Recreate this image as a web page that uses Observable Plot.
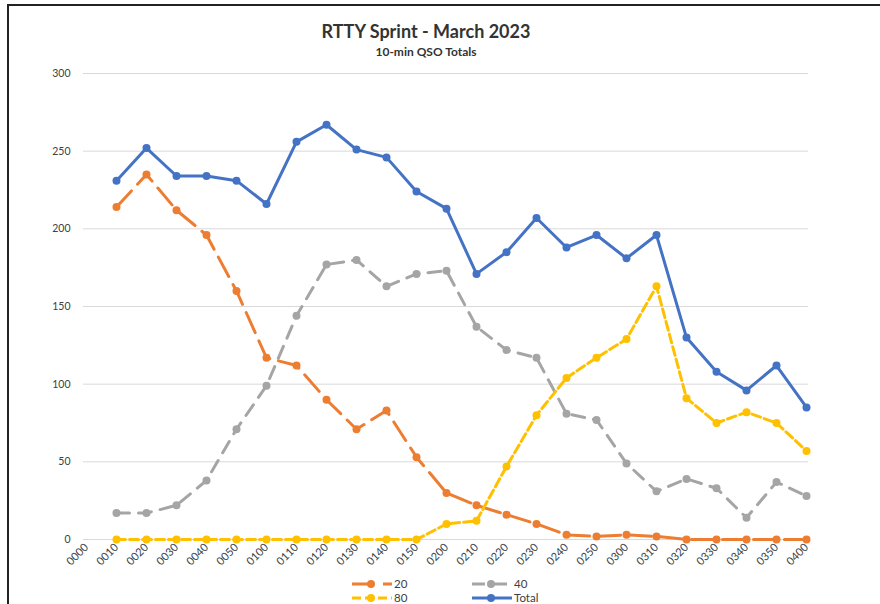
<!DOCTYPE html>
<html>
<head>
<meta charset="utf-8">
<script src="https://cdn.jsdelivr.net/npm/d3@7"></script>
<script src="https://cdn.jsdelivr.net/npm/@observablehq/plot@0.6"></script>
<style>
  html, body { margin: 0; padding: 0; background: #fff; }
  #wrap { position: relative; width: 880px; height: 604px; overflow: hidden; background: #fff; font-family: Lato, "Open Sans", sans-serif; }
  #frame { position: absolute; left: 7px; top: 4px; width: 900px; height: 700px; border-top: 2px solid #222; border-left: 2px solid #222; }
  #title { position: absolute; top: 20px; left: 226px; width: 400px; text-align: center; font-weight: bold; font-size: 18px; color: #333; }
  #subtitle { position: absolute; top: 44px; left: 226px; width: 400px; text-align: center; font-weight: bold; font-size: 12px; color: #333; }
  #chart { position: absolute; top: 62px; left: 0; }
  #legend { position: absolute; top: 574px; left: 0; }
</style>
</head>
<body>
<div id="wrap">
  <div id="frame"></div>
  <div id="title">RTTY Sprint - March 2023</div>
  <div id="subtitle">10-min QSO Totals</div>
  <div id="chart"></div>
  <div id="legend"></div>
</div>
<script>
const times = ["0000","0010","0020","0030","0040","0050","0100","0110","0120","0130","0140","0150","0200","0210","0220","0230","0240","0250","0300","0310","0320","0330","0340","0350","0400"];
const band20 = [null,214,235,212,196,160,117,112,90,71,83,53,30,22,16,10,3,2,3,2,0,0,0,0,0];
const band40 = [null,17,17,22,38,71,99,144,177,180,163,171,173,137,122,117,81,77,49,31,39,33,14,37,28];
const band80 = [null,0,0,0,0,0,0,0,0,0,0,0,10,12,47,80,104,117,129,163,91,75,82,75,57];
const total  = [null,231,252,234,234,231,216,256,267,251,246,224,213,171,185,207,188,196,181,196,130,108,96,112,85];
const yTicks = [0,50,100,150,200,250,300];

const seriesDefs = [
  {name: "20", values: band20, color: "#ED7D31", dash: "22,9"},
  {name: "40", values: band40, color: "#A5A5A5", dash: "13,9"},
  {name: "80", values: band80, color: "#FFC000", dash: "9,4"},
  {name: "Total", values: total, color: "#4472C4", dash: null}
];

const marks = [
  Plot.gridY(yTicks, {stroke: "#d9d9d9", strokeOpacity: 1, strokeWidth: 1}),
  Plot.axisY(yTicks, {tickSize: 0, tickPadding: 13, fontSize: 10.5}),
  Plot.axisX({tickRotate: -45, tickSize: 0, tickPadding: 6, fontSize: 11})
];
for (const s of seriesDefs) {
  const rows = times.map((t, i) => ({time: t, value: s.values[i]})).filter(d => d.value != null);
  const opts = {x: "time", y: "value", stroke: s.color, strokeWidth: 3};
  if (s.dash) opts.strokeDasharray = s.dash;
  marks.push(Plot.line(rows, opts));
  marks.push(Plot.dot(rows, {x: "time", y: "value", fill: s.color, r: 4}));
}

const chart = Plot.plot({
  width: 880,
  height: 512,
  marginLeft: 83,
  marginRight: 72,
  marginTop: 11,
  marginBottom: 35,
  style: {color: "#404040", fontFamily: "Lato, 'Open Sans', sans-serif", background: "transparent", overflow: "visible"},
  x: {type: "point", domain: times, padding: 0, label: null},
  y: {domain: [0, 300], label: null},
  marks
});
document.getElementById("chart").appendChild(chart);

// legend
const ns = "http://www.w3.org/2000/svg";
const lsvg = document.createElementNS(ns, "svg");
lsvg.setAttribute("width", 880);
lsvg.setAttribute("height", 30);
const legendPos = [
  {x: 352, y: 10},
  {x: 472, y: 10},
  {x: 352, y: 24},
  {x: 472, y: 24}
];
seriesDefs.forEach((s, i) => {
  const p = legendPos[i];
  const line = document.createElementNS(ns, "line");
  line.setAttribute("x1", p.x); line.setAttribute("x2", p.x + 40);
  line.setAttribute("y1", p.y); line.setAttribute("y2", p.y);
  line.setAttribute("stroke", s.color); line.setAttribute("stroke-width", 3);
  if (s.dash) line.setAttribute("stroke-dasharray", s.dash);
  lsvg.appendChild(line);
  const c = document.createElementNS(ns, "circle");
  c.setAttribute("cx", p.x + 19); c.setAttribute("cy", p.y); c.setAttribute("r", 4);
  c.setAttribute("fill", s.color);
  lsvg.appendChild(c);
  const t = document.createElementNS(ns, "text");
  t.setAttribute("x", p.x + 42); t.setAttribute("y", p.y + 4);
  t.setAttribute("fill", "#404040");
  t.setAttribute("font-size", "11.5");
  t.setAttribute("font-family", "Lato, 'Open Sans', sans-serif");
  t.textContent = s.name;
  lsvg.appendChild(t);
});
document.getElementById("legend").appendChild(lsvg);
</script>
</body>
</html>
